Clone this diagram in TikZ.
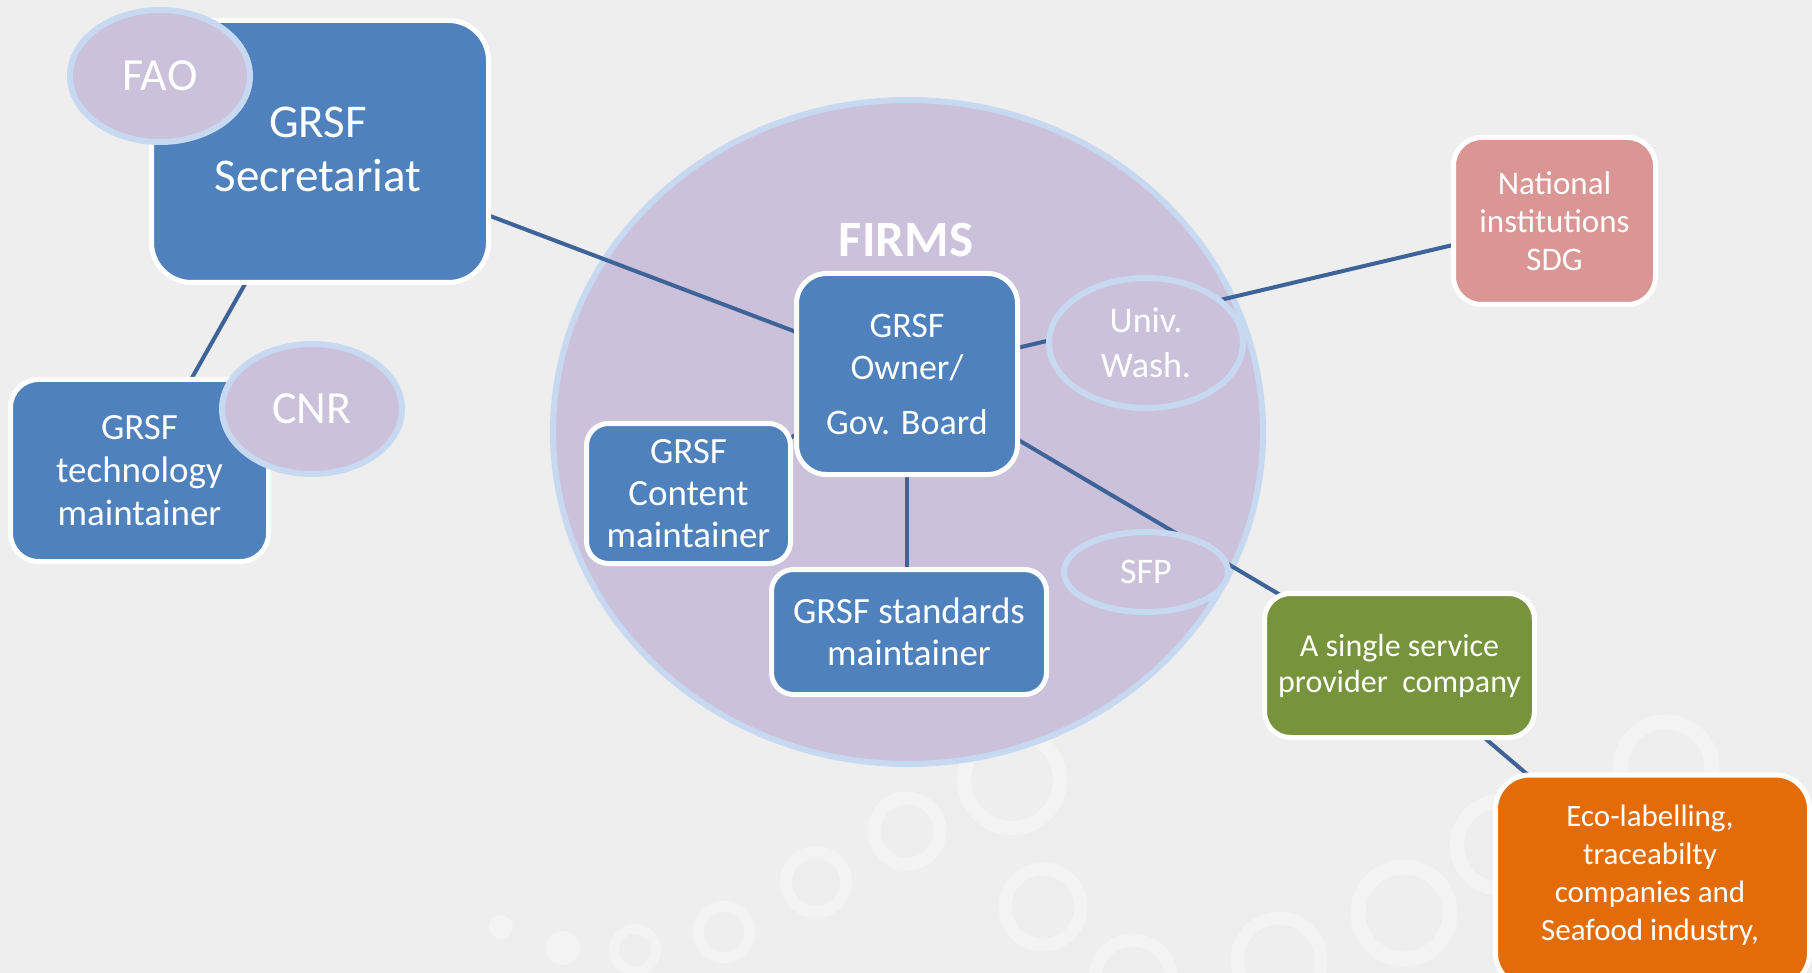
\documentclass[tikz,border=0pt]{standalone}
\usepackage{fontspec}
\setmainfont{Carlito}
\usetikzlibrary{shapes.geometric}
\pgfdeclarelayer{back}
\pgfdeclarelayer{mid}
\pgfsetlayers{back,mid,main}
\definecolor{bgc}{HTML}{EEEEEE}
\definecolor{boxblue}{HTML}{4F81BD}
\definecolor{linkc}{HTML}{3D6399}
\definecolor{lilac}{HTML}{CCC1DA}
\definecolor{rimc}{HTML}{C6D9F1}
\definecolor{greenc}{HTML}{77933C}
\definecolor{redc}{HTML}{D99694}
\definecolor{orangec}{HTML}{E36C09}
\newcommand{\fs}[2]{\fontsize{#1}{#2}\selectfont}
\begin{document}
\begin{tikzpicture}[x=1pt,y=-1pt,
  box/.style={rectangle, draw=white, line width=5pt, inner sep=0pt, text=white, align=center},
  oval/.style={ellipse, fill=lilac, draw=rimc, line width=6pt, inner sep=0pt, text=white, align=center},
  link/.style={draw=linkc, line width=4pt},
  ring/.style={draw=white, opacity=0.3},
  dot/.style={fill=white, opacity=0.3}]
\useasboundingbox (0,0) rectangle (1812,973);
\begin{pgfonlayer}{back}
\fill[bgc] (0,0) rectangle (1812,973);
% faint background rings
\foreach \x/\y/\r/\w in {1012/780/48/14, 907/831/33/13, 816/882/30/12, 724/932/26/11, 635/950/21/10,
  1043/907/38/13, 1133/978/38/13, 1279/960/42/13, 1404/913/46/15, 1666/768/46/15, 1501/845/44/14}
  \draw[ring, line width=\w pt] (\x,\y) circle[radius=\r];
\fill[dot] (563,948) circle[radius=17];
\fill[dot] (501,927) circle[radius=12];
% big FIRMS circle
\node[oval, minimum width=710pt, minimum height=664pt] (firms) at (908,432) {};
\end{pgfonlayer}
\node[text=white, font=\fs{51}{60}\bfseries] (firmslbl) at (906,240) {FIRMS};
% boxes
\node[box, fill=boxblue, rounded corners=40pt, minimum width=337pt, minimum height=262pt] (sec) at (320,151.5) {};
\node[text=white, align=center, font=\fs{47}{54}] (seclbl) at (318,149) {GRSF\\Secretariat};
\node[oval, minimum width=180pt, minimum height=132pt, font=\fs{46}{50}] (fao) at (160,76) {FAO};
\node[box, fill=boxblue, rounded corners=28pt, minimum width=258pt, minimum height=182pt, font=\fs{37}{43}] (tech) at (139.5,470.5) {GRSF\\technology\\maintainer};
\node[oval, minimum width=180pt, minimum height=130pt, font=\fs{46}{50}] (cnr) at (312,409) {CNR};
\node[box, fill=boxblue, rounded corners=30pt, minimum width=221pt, minimum height=201pt, font=\fs{36}{42}] (owner) at (907,374) {GRSF\\Owner/\\[13pt]Gov. Board};
\node[box, fill=boxblue, rounded corners=22pt, minimum width=204pt, minimum height=140pt, font=\fs{37}{42}] (content) at (688.5,493.5) {GRSF\\Content\\maintainer};
\node[box, fill=boxblue, rounded corners=22pt, minimum width=275pt, minimum height=125pt, font=\fs{37}{42}] (std) at (909,632) {GRSF standards\\maintainer};
\node[oval, minimum width=194pt, minimum height=130pt, font=\fs{36}{45}] (univ) at (1146,343) {Univ.\\Wash.};
\node[oval, minimum width=164pt, minimum height=80pt, font=\fs{36}{42}] (sfp) at (1146,572) {SFP};
\node[box, fill=redc, rounded corners=28pt, minimum width=202pt, minimum height=167pt, font=\fs{33}{38}] (nat) at (1554.5,221) {National\\institutions\\SDG};
\node[box, fill=greenc, rounded corners=26pt, minimum width=270pt, minimum height=144pt, font=\fs{32}{36}] (sp) at (1399.5,665.5) {A single service\\provider\ \ company};
\node[box, fill=orangec, rounded corners=34pt, minimum width=314pt, minimum height=212pt] (eco) at (1652.5,881) {};
\node[text=white, align=center, font=\fs{31}{38}] (ecolbl) at (1650,875) {Eco-labelling,\\traceabilty\\companies and\\Seafood industry,};
% connectors (behind nodes)
\begin{pgfonlayer}{mid}
\draw[link] (sec.center) -- (owner.center);
\draw[link] (sec.center) -- (tech.center);
\draw[link] (owner.center) -- (nat.center);
\draw[link] (owner.center) -- (sp.center);
\draw[link] (sp.center) -- (eco.center);
\draw[link] (owner.center) -- (owner.center |- std.center);
\draw[link] (owner.center) -- (content.center);
\end{pgfonlayer}
\end{tikzpicture}
\end{document}
